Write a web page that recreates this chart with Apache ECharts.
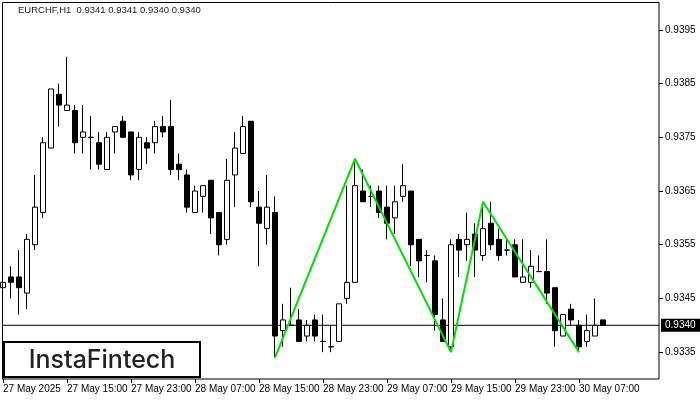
<!DOCTYPE html>
<html><head><meta charset="utf-8">
<script src="https://cdn.jsdelivr.net/npm/echarts@6/dist/echarts.min.js"></script>
<style>html,body{margin:0;padding:0;background:#fff}#c{width:700px;height:400px}</style>
</head><body><div id="c"></div>
<script>
const header = 'EURCHF,H1  0.9341 0.9341 0.9340 0.9340';
const opens  = [0.9347,0.9349,0.9349,0.9346,0.9355,0.9361,0.9373,0.9383,0.9380,0.9380,
                0.9375,0.9375,0.9374,0.9369,0.9376,0.9378,0.9376,0.9369,0.9374,0.9374,
                0.9377,0.9377,0.9370,0.9368,0.9361,0.9364,0.9367,0.9361,0.9356,0.9368,
                0.9372,0.9378,0.9362,0.9358,0.9361,0.9339,0.9340,0.9341,0.9338,0.9341,
                0.9337,0.9336,0.9337,0.9345,0.9348,0.9365,0.9364,0.9365,0.9362,0.9360,
                0.9364,0.9365,0.9356,0.9353,0.9352,0.9341,0.9336,0.9356,0.9355,0.9357,
                0.9353,0.9359,0.9356,0.9354,0.9355,0.9348,0.9348,0.9350,0.9350,0.9347,
                0.9338,0.9343,0.9340,0.9337,0.9338,0.9341];
const highs  = [0.9349,0.9351,0.9354,0.9357,0.9368,0.9375,0.9384,0.9385,0.9390,0.9381,
                0.9381,0.9379,0.9376,0.9376,0.9377,0.9379,0.9376,0.9376,0.9375,0.9378,
                0.9379,0.9382,0.9372,0.9369,0.9366,0.9366,0.9367,0.9361,0.9371,0.9376,
                0.9379,0.9378,0.9365,0.9368,0.9364,0.9344,0.9347,0.9343,0.9341,0.9342,
                0.9342,0.9340,0.9344,0.9366,0.9371,0.9369,0.9366,0.9366,0.9366,0.9366,
                0.9370,0.9365,0.9356,0.9354,0.9353,0.9345,0.9356,0.9357,0.9361,0.9359,
                0.9363,0.9363,0.9358,0.9356,0.9356,0.9356,0.9354,0.9353,0.9356,0.9347,
                0.9342,0.9344,0.9341,0.9342,0.9345,0.9341];
const lows   = [0.9346,0.9345,0.9342,0.9343,0.9354,0.9360,0.9373,0.9377,0.9380,0.9372,
                0.9372,0.9369,0.9369,0.9369,0.9372,0.9375,0.9367,0.9367,0.9370,0.9372,
                0.9375,0.9368,0.9367,0.9361,0.9361,0.9361,0.9357,0.9353,0.9355,0.9362,
                0.9372,0.9362,0.9351,0.9355,0.9334,0.9336,0.9340,0.9337,0.9337,0.9337,
                0.9335,0.9335,0.9337,0.9344,0.9348,0.9363,0.9362,0.9360,0.9356,0.9357,
                0.9363,0.9351,0.9349,0.9348,0.9339,0.9337,0.9335,0.9349,0.9352,0.9349,
                0.9352,0.9354,0.9352,0.9353,0.9349,0.9348,0.9347,0.9350,0.9344,0.9336,
                0.9338,0.9340,0.9335,0.9336,0.9338,0.9340];
const closes = [0.9348,0.9348,0.9347,0.9356,0.9362,0.9374,0.9384,0.9381,0.9381,0.9374,
                0.9376,0.9375,0.9370,0.9375,0.9377,0.9375,0.9368,0.9375,0.9373,0.9377,
                0.9376,0.9369,0.9369,0.9362,0.9365,0.9366,0.9360,0.9355,0.9367,0.9373,
                0.9377,0.9363,0.9359,0.9362,0.9338,0.9341,0.9340,0.9337,0.9340,0.9338,
                0.9337,0.9336,0.9344,0.9348,0.9366,0.9363,0.9364,0.9361,0.9359,0.9363,
                0.9366,0.9355,0.9352,0.9353,0.9342,0.9337,0.9355,0.9354,0.9356,0.9354,
                0.9358,0.9355,0.9353,0.9354,0.9349,0.9349,0.9351,0.9350,0.9346,0.9339,
                0.9342,0.9341,0.9336,0.9339,0.9340,0.9340];
const tickLabels = ['27 May 2025','27 May 15:00','27 May 23:00','28 May 07:00','28 May 15:00',
                    '28 May 23:00','29 May 07:00','29 May 15:00','29 May 23:00','30 May 07:00'];
const priceTicks = [0.9335,0.9345,0.9355,0.9365,0.9375,0.9385,0.9395];
const patternIdx = [34,44,56,60,72];
const patternVal = [0.9334,0.9371,0.9335,0.9363,0.9335];
const lastPrice = 0.9340;

const N = 83; // slots incl. empty space right of last candle
const categories = [];
for (let i = 0; i < N; i++) categories.push(String(i));
const candleData = opens.map((o, i) => [o, closes[i], lows[i], highs[i]]);
const showTick = (i) => i % 8 === 0 && i / 8 < tickLabels.length;
const FONT = 'Liberation Sans';

const chart = echarts.init(document.getElementById('c'));
chart.setOption({
  animation: false,
  backgroundColor: '#fff',
  grid: { left: 3, right: 41, top: 2, bottom: 21, containLabel: false },
  xAxis: {
    type: 'category', data: categories, boundaryGap: false,
    axisLine: { show: false },
    axisTick: { show: true, interval: showTick, length: 4, lineStyle: { color: '#000' } },
    axisLabel: { interval: showTick, formatter: (v, i) => tickLabels[i / 8] || '',
      align: 'left', margin: 5, fontSize: 10, color: '#000', fontFamily: FONT },
    splitLine: { show: false }
  },
  yAxis: {
    type: 'value', position: 'right', min: 0.9330, max: 0.94002, scale: true,
    axisLine: { show: false },
    splitLine: { show: false },
    axisTick: { show: true, length: 4, customValues: priceTicks, lineStyle: { color: '#000' } },
    axisLabel: { customValues: priceTicks, formatter: (v) => v.toFixed(4), margin: 6,
      fontSize: 10, color: '#000', fontFamily: FONT }
  },
  graphic: [
    { type: 'rect', z: 100, silent: true,
      shape: { x: 2.5, y: 2.5, width: 656.5, height: 376.5 },
      style: { fill: 'none', stroke: '#000', lineWidth: 1 } },
    { type: 'text', left: 18, top: 5, z: 100,
      style: { text: header, fontSize: 9.5, fill: '#222', fontFamily: FONT } },
    { type: 'rect', z: 100,
      shape: { x: 4, y: 342, width: 196, height: 35 },
      style: { fill: '#fff', stroke: '#000', lineWidth: 2 } },
    { type: 'text', z: 101, x: 102, y: 360,
      style: { text: 'InstaFintech', fontSize: 25, fontWeight: 500, fontFamily: 'Inter',
        fill: '#222', align: 'center', verticalAlign: 'middle' } }
  ],
  series: [
    { type: 'line', data: [[0, lastPrice], [N - 1, lastPrice]], symbol: 'none', z: 1,
      silent: true, clip: false,
      lineStyle: { color: '#000', width: 1 },
      endLabel: { show: true, formatter: lastPrice.toFixed(4), distance: 2,
        backgroundColor: '#000', color: '#fff', padding: [2, 5, 1, 4],
        fontSize: 10, fontFamily: FONT } },
    { type: 'candlestick', data: candleData, barWidth: 5, clip: false, z: 3,
      itemStyle: { color: '#fff', color0: '#000', borderColor: '#000', borderColor0: '#000',
        borderColorDoji: '#000', borderWidth: 1 } },
    { type: 'line', data: patternIdx.map((x, k) => [x, patternVal[k]]), symbol: 'none',
      z: 5, lineStyle: { color: '#00e000', width: 2 } }
  ]
});
</script></body></html>
